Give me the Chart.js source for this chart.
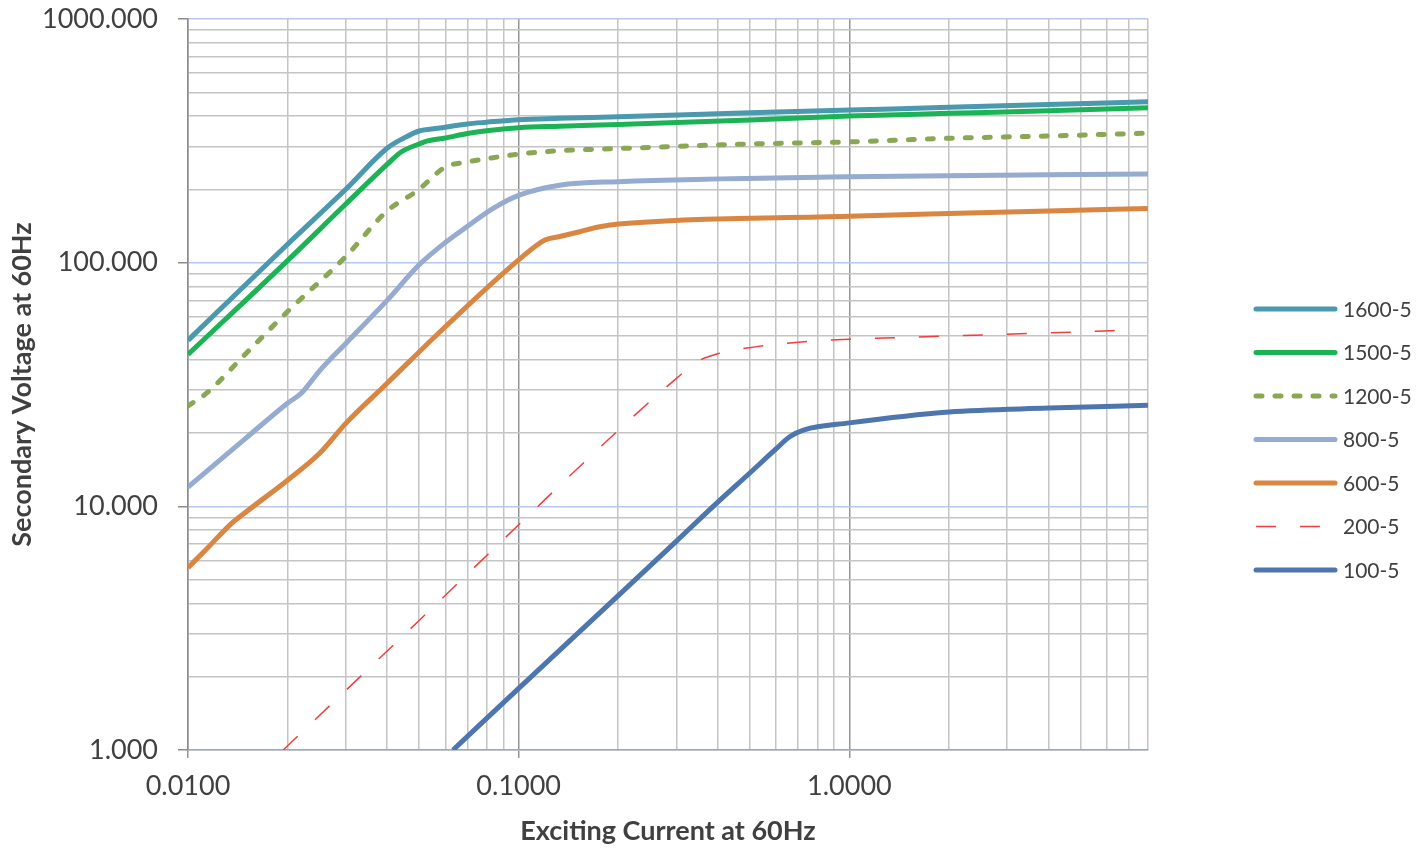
<!DOCTYPE html>
<html>
<head>
<meta charset="utf-8">
<script src="https://cdn.jsdelivr.net/npm/chart.js@4.4.0/dist/chart.umd.min.js"></script>
<style>
  body { margin: 0; background: #fff; }
</style>
</head>
<body>
<canvas id="myChart" width="1428" height="850"></canvas>
<script>
// tengelyek
const xDecades = [0.01, 0.1, 1];
const yDecades = [1, 10, 100, 1000];
const xMin = 0.01, xMax = 8;
const yMin = 1, yMax = 1000;

// sorozatok
const seriesNames = ['1600-5', '1500-5', '1200-5', '800-5', '600-5', '200-5', '100-5'];

const current1600 = [0.01, 0.02, 0.03, 0.04, 0.045, 0.05, 0.057, 0.07, 0.08, 0.1, 0.133, 0.2, 0.5, 1, 2, 4, 8];
const voltage1600 = [48, 119, 200, 295, 325, 347, 356, 371, 377, 386, 391, 397, 412, 423, 434, 446, 457];

const current1500 = [0.01, 0.02, 0.03, 0.04, 0.044, 0.05, 0.053, 0.06, 0.07, 0.08, 0.1, 0.133, 0.2, 0.5, 1, 2, 4, 8];
const voltage1500 = [42, 102, 174, 253, 284, 307, 316, 325, 339, 348, 358, 363, 369, 385, 400, 410, 420, 432];

const current1200 = [0.01, 0.0114, 0.015, 0.02, 0.03, 0.04, 0.05, 0.055, 0.06, 0.07, 0.08, 0.1, 0.133, 0.2, 0.5, 1, 2, 4, 8];
const voltage1200 = [25.8, 29.2, 42.5, 63, 106, 163, 200, 225, 247, 259, 267, 279, 288, 294, 307, 313, 324, 331, 340];

const current800 = [0.01, 0.015, 0.02, 0.022, 0.025, 0.03, 0.04, 0.05, 0.06, 0.07, 0.083, 0.1, 0.133, 0.2, 1, 8];
const voltage800 = [12.0, 19.1, 26.5, 29.1, 36, 46.6, 70, 98, 121, 141, 166, 189, 208, 215, 225, 231];

const current600 = [0.01, 0.0114, 0.0134, 0.015, 0.02, 0.025, 0.03, 0.04, 0.06, 0.1, 0.12, 0.133, 0.153, 0.174, 0.2, 1, 2, 4, 8];
const voltage600 = [5.6, 6.7, 8.4, 9.5, 12.8, 16.5, 21.9, 32, 54.6, 102.6, 124, 128, 134, 140, 144, 155, 159, 163, 167];

const current200 = [0.0194, 0.05, 0.1, 0.2, 0.3, 0.35, 0.4, 0.5, 0.8, 1, 2, 4, 7.3];
const voltage200 = [1.0, 3.4, 8.4, 20.5, 33.5, 39.5, 42.3, 44.8, 47.8, 48.5, 50, 51.5, 53];

const current100 = [0.0633, 0.1, 0.2, 0.3, 0.4, 0.5, 0.6, 0.66, 0.73, 1, 2, 4, 8];
const voltage100 = [1.0, 1.79, 4.3, 7.2, 10.4, 13.7, 17.2, 19.3, 20.6, 22.0, 24.4, 25.3, 26.0];

const currents = [current1600, current1500, current1200, current800, current600, current200, current100];
const voltages = [voltage1600, voltage1500, voltage1200, voltage800, voltage600, voltage200, voltage100];

const colors = ['#4A99AE', '#1BB355', '#8CA753', '#95ABCF', '#DA8643', '#F03D3D', '#4E76AE'];
const widths = [5, 5, 5, 5, 5, 1.5, 5];
const dashes = [[], [], [6, 13], [], [], [20, 24], []];

// rácsvonalak: 1..9 minden dekádban
function logTicks(min, max) {
    const out = [];
    for (let d = Math.pow(10, Math.floor(Math.log10(min))); d <= max; d *= 10) {
        for (let k = 1; k <= 9; k++) {
            const v = +(d * k).toPrecision(6);
            if (v >= min * 0.999 && v <= max * 1.001) out.push(v);
        }
    }
    return out;
}
const isDecade = v => Math.abs(Math.log10(v) - Math.round(Math.log10(v))) < 1e-6;

const datasets = seriesNames.map((name, i) => ({
    label: name,
    data: currents[i].map((x, j) => ({ x: x, y: voltages[i][j] })),
    borderColor: colors[i],
    backgroundColor: colors[i],
    borderWidth: widths[i],
    borderDash: dashes[i],
    borderCapStyle: i === 2 ? 'round' : 'butt',
    cubicInterpolationMode: 'monotone',
    pointRadius: 0,
    fill: false
}));

// jelmagyarázat kézzel, a minta szerint
const legendPlugin = {
    id: 'sideLegend',
    afterDraw(chart) {
        const c = chart.ctx;
        c.save();
        chart.data.datasets.forEach((ds, i) => {
            const y = 309 + i * 43.5;
            c.strokeStyle = ds.borderColor;
            c.lineWidth = ds.borderWidth;
            c.lineCap = ds.borderDash.length ? ds.borderCapStyle : 'round';
            c.setLineDash(ds.borderDash);
            c.beginPath();
            c.moveTo(1256, y);
            c.lineTo(1335, y);
            c.stroke();
            c.setLineDash([]);
            c.fillStyle = '#404040';
            c.font = '21px Lato';
            c.textBaseline = 'middle';
            c.fillText(ds.label, 1343, y + 1);
        });
        c.restore();
    }
};

const ctx = document.getElementById('myChart').getContext('2d');

new Chart(ctx, {
    type: 'line',
    data: { datasets: datasets },
    plugins: [legendPlugin],
    options: {
        responsive: false,
        animation: false,
        devicePixelRatio: 1,
        layout: { padding: { top: 19, right: 280, left: 0, bottom: 0 } },
        plugins: {
            legend: { display: false },
            tooltip: { enabled: false }
        },
        scales: {
            x: {
                type: 'logarithmic',
                min: xMin,
                max: xMax,
                afterBuildTicks: scale => { scale.ticks = logTicks(xMin, xMax).map(v => ({ value: v })); },
                afterFit: scale => {
                    scale.height = 100;
                    scale.paddingLeft = 0;
                    scale.paddingRight = 0;
                },
                ticks: {
                    autoSkip: false,
                    maxRotation: 0,
                    minRotation: 0,
                    padding: 12,
                    color: '#404040',
                    font: { family: 'Lato', size: 27 },
                    callback: v => xDecades.some(d => Math.abs(d - v) < d * 1e-6) ? v.toFixed(4) : ''
                },
                grid: {
                    color: c => isDecade(c.tick.value) ? '#959595' : '#C4C4C4',
                    lineWidth: 1.5,
                    tickLength: 8,
                    tickColor: c => isDecade(c.tick.value) ? '#959595' : 'rgba(0,0,0,0)'
                },
                border: { color: '#A6A6A6', width: 1.5 },
                title: {
                    display: true,
                    text: 'Exciting Current at 60Hz',
                    color: '#404040',
                    font: { family: 'Lato', size: 27, weight: 'bold' },
                    padding: { top: 0, bottom: 3 }
                }
            },
            y: {
                type: 'logarithmic',
                min: yMin,
                max: yMax,
                afterBuildTicks: scale => { scale.ticks = logTicks(yMin, yMax).map(v => ({ value: v })); },
                afterFit: scale => {
                    scale.width = 188;
                    scale.paddingTop = 0;
                    scale.paddingBottom = 0;
                },
                ticks: {
                    autoSkip: false,
                    padding: 20,
                    color: '#404040',
                    font: { family: 'Lato', size: 27 },
                    callback: v => yDecades.includes(v) ? v.toFixed(3) : ''
                },
                grid: {
                    color: c => isDecade(c.tick.value) ? '#B7C8E6' : '#C4C4C4',
                    lineWidth: 1.5,
                    tickLength: 10,
                    tickColor: c => isDecade(c.tick.value) ? '#8C8C8C' : 'rgba(0,0,0,0)'
                },
                border: { color: '#8C8C8C', width: 1.5 },
                title: {
                    display: true,
                    text: 'Secondary Voltage at 60Hz',
                    color: '#404040',
                    font: { family: 'Lato', size: 27, weight: 'bold' },
                    padding: { top: 6, bottom: 0 }
                }
            }
        }
    }
});
</script>
</body>
</html>
